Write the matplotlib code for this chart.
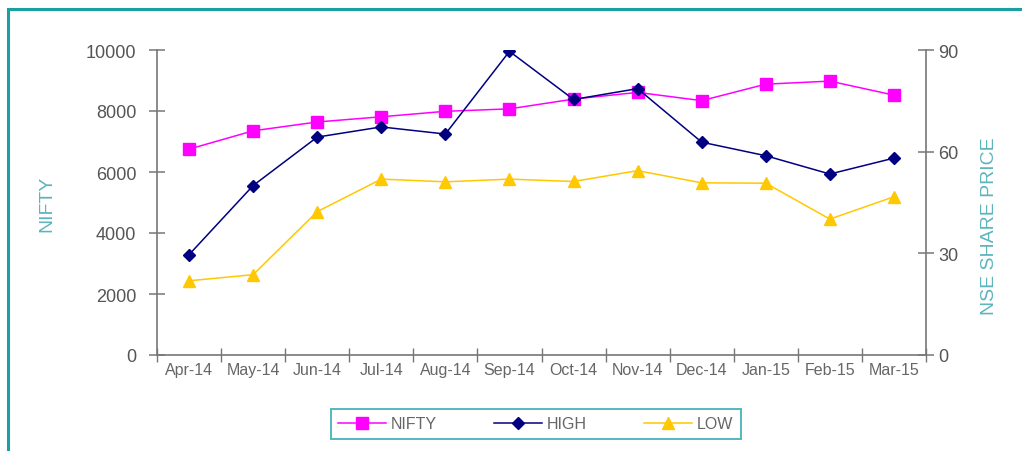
import matplotlib
matplotlib.use("Agg")
import matplotlib.pyplot as plt
from matplotlib.patches import Rectangle

# Data
months = ["Apr-14", "May-14", "Jun-14", "Jul-14", "Aug-14", "Sep-14",
          "Oct-14", "Nov-14", "Dec-14", "Jan-15", "Feb-15", "Mar-15"]
nifty = [6750, 7350, 7640, 7810, 7990, 8070, 8390, 8610, 8340, 8880, 8980, 8520]
high = [29.6, 50.0, 64.3, 67.3, 65.2, 89.6, 75.4, 78.6, 62.8, 58.8, 53.4, 58.1]
low = [21.9, 23.7, 42.3, 51.9, 51.1, 51.9, 51.2, 54.4, 50.8, 50.7, 40.1, 46.7]

left_ticks = [0, 2000, 4000, 6000, 8000, 10000]
right_ticks = [0, 30, 60, 90]

teal = "#1a9fa5"
label_teal = "#5db5bc"
axis_grey = "#777777"

plt.rcParams['font.family'] = ['Liberation Sans', 'DejaVu Sans']

fig = plt.figure(figsize=(10.22, 4.52), dpi=100)
ax = fig.add_axes([157 / 1022, 1 - 356 / 452, (926 - 157) / 1022, (356 - 51) / 452])
ax2 = ax.twinx()

x = list(range(len(months)))

# Left axis: NIFTY
l1, = ax.plot(x, nifty, color="#ff00ff", lw=1.1, marker="s", markersize=9,
              markeredgecolor="#ff00ff", label="NIFTY", zorder=3)
# Right axis: HIGH / LOW share price
l2, = ax2.plot(x, high, color="#000080", lw=1.1, marker="D", markersize=6.5,
               label="HIGH", zorder=3)
l3, = ax2.plot(x, low, color="#ffc800", lw=1.1, marker="^", markersize=8.5,
               label="LOW", zorder=3)

ax.set_xlim(-0.5, len(months) - 0.5)
ax.set_ylim(0, 10000)
ax2.set_ylim(0, 90)

ax.set_yticks(left_ticks)
ax2.set_yticks(right_ticks)
ax.set_xticks(x)
ax.set_xticklabels(months)
ax.set_xticks([i - 0.5 for i in range(len(months) + 1)], minor=True)

for a in (ax, ax2):
    a.spines["top"].set_visible(False)
    for s in ("left", "right", "bottom"):
        a.spines[s].set_color(axis_grey)
        a.spines[s].set_linewidth(1.2)
    a.set_facecolor("none")

ax.spines["right"].set_visible(False)
ax2.spines["left"].set_visible(False)
ax2.spines["bottom"].set_visible(False)

ax.tick_params(axis="y", direction="inout", length=12, width=1.1, color=axis_grey,
               labelsize=13, labelcolor="#555555", pad=9)
ax2.tick_params(axis="y", direction="inout", length=12, width=1.1, color=axis_grey,
                labelsize=13, labelcolor="#555555", pad=3)
ax.tick_params(axis="x", which="major", length=0, labelsize=11.5,
               labelcolor="#666666", pad=5)
ax.tick_params(axis="x", which="minor", direction="inout", length=10, width=1.0,
               color=axis_grey)

ax.set_ylabel("NIFTY", color=label_teal, fontsize=14)
ax.yaxis.set_label_coords(-0.1326, 0.5)
ax2.set_ylabel("NSE SHARE PRICE", color=label_teal, fontsize=14)
ax2.yaxis.set_label_coords(1.071, 0.426)

# Outer teal frame (only left and top visible in the crop)
fig.patches.append(Rectangle((8 / 1022, -0.2), 1.2, 1.2 - 10 / 452 + 0.0,
                             transform=fig.transFigure, fill=False,
                             edgecolor=teal, linewidth=2.2))

leg = fig.legend(handles=[l1, l2, l3], loc="center",
                 bbox_to_anchor=((336 + 735) / 2 / 1022, 1 - 425 / 452),
                 ncol=3, fontsize=11.5, frameon=True, fancybox=False,
                 handlelength=3.0, handletextpad=0.3, columnspacing=3.6,
                 borderpad=0.45)
leg.get_frame().set_edgecolor(teal)
leg.get_frame().set_linewidth(1.3)
for t in leg.get_texts():
    t.set_color("#666666")

fig.savefig("out.png", dpi=100)
